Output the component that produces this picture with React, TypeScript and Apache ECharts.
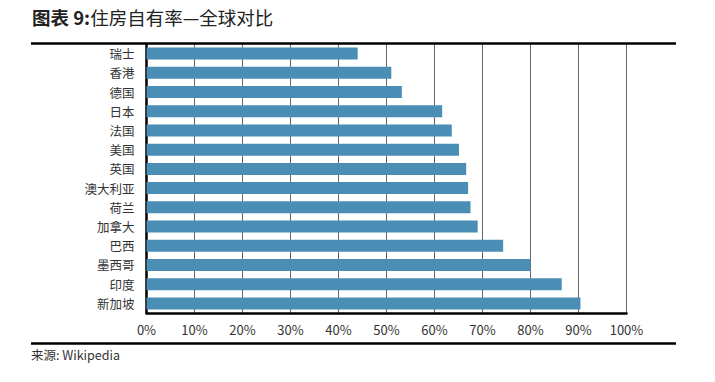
import React, { useEffect, useRef } from "react";
import * as echarts from "echarts";

const categories = ["瑞士", "香港", "德国", "日本", "法国", "美国", "英国", "澳大利亚", "荷兰", "加拿大", "巴西", "墨西哥", "印度", "新加坡"];
const ownershipRate = [44, 51, 53.2, 61.6, 63.6, 65.1, 66.6, 67.0, 67.5, 69.0, 74.3, 80.0, 86.5, 90.4];
const titleBold = "图表 9:";
const titleRest = "住房自有率—全球对比";
const sourceText = "来源: Wikipedia";

const FONT = "'Noto Sans CJK SC', 'Noto Sans', sans-serif";

export default function App() {
  const ref = useRef<HTMLDivElement>(null);
  useEffect(() => {
    if (!ref.current) return;
    const chart = echarts.init(ref.current, null, { renderer: "svg" });
    chart.setOption({
      animation: false,
      backgroundColor: "#ffffff",
      textStyle: { fontFamily: FONT },
      grid: { left: 146.5, right: 88.5, top: 44, bottom: 69, containLabel: false },
      xAxis: {
        type: "value",
        min: 0,
        max: 100,
        interval: 10,
        axisLine: { show: true, lineStyle: { color: "#000", width: 2.5 } },
        axisTick: { show: false },
        splitLine: { show: true, lineStyle: { color: "#666", width: 1 } },
        axisLabel: { formatter: "{value}%", color: "#333", fontSize: 13, margin: 10, fontFamily: FONT },
      },
      yAxis: {
        type: "category",
        data: categories,
        inverse: true,
        axisLine: { show: true, lineStyle: { color: "#000", width: 2.5 } },
        axisTick: { show: false },
        axisLabel: { color: "#333", fontSize: 12.5, margin: 12, fontFamily: FONT },
      },
      series: [
        {
          type: "bar",
          data: ownershipRate,
          barWidth: 12,
          itemStyle: { color: "#4a8eb6" },
        },
      ],
      graphic: [
        {
          type: "text",
          left: 32,
          top: 8,
          style: {
            text: `{b|${titleBold}}{r|${titleRest}}`,
            rich: {
              b: { fontSize: 18.5, fontWeight: "bold", fill: "#222", fontFamily: FONT },
              r: { fontSize: 18.5, fontWeight: "normal", fill: "#222", fontFamily: FONT },
            },
          },
        },
        {
          type: "line",
          shape: { x1: 31, y1: 43.5, x2: 676, y2: 43.5 },
          style: { stroke: "#000", lineWidth: 2.5 },
          z: 100,
        },
        {
          type: "line",
          shape: { x1: 31, y1: 343.5, x2: 676, y2: 343.5 },
          style: { stroke: "#000", lineWidth: 2.5 },
        },
        {
          type: "text",
          left: 31,
          top: 348,
          style: { text: sourceText, fontSize: 12.5, fill: "#333", fontFamily: FONT },
        },
      ],
    });
    return () => chart.dispose();
  }, []);
  return <div ref={ref} style={{ position: "fixed", left: 0, top: 0, width: 715, height: 382 }} />;
}
